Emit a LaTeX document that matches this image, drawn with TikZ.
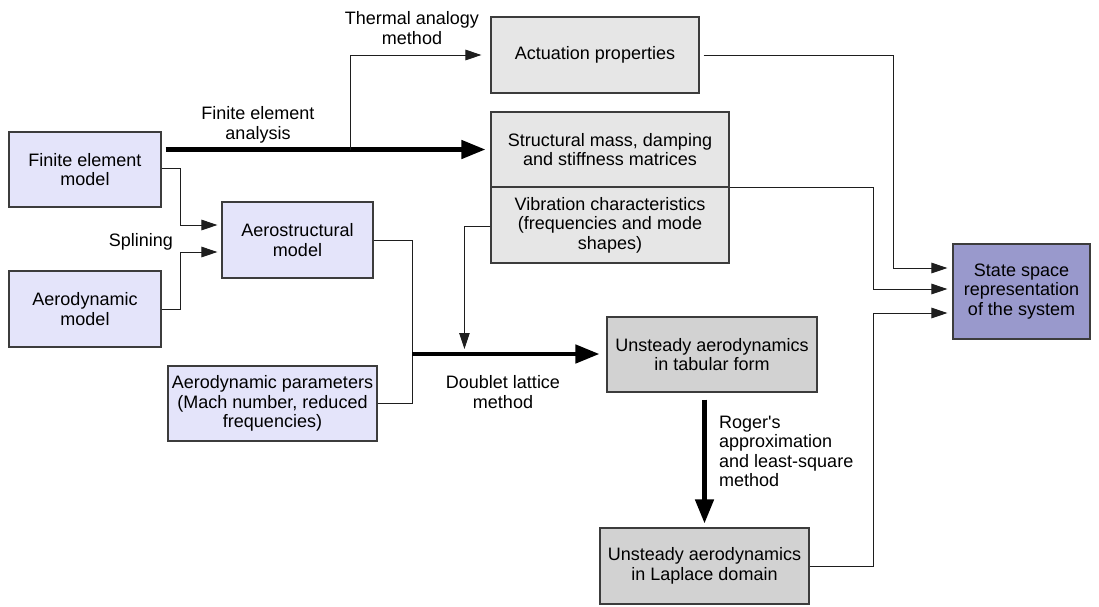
\documentclass[tikz,border=0pt]{standalone}
\usepackage{fontspec}
\setmainfont{Liberation Sans}
\usetikzlibrary{arrows.meta}
\definecolor{lav}{RGB}{228,228,250}
\definecolor{lgray}{RGB}{230,230,230}
\definecolor{mgray}{RGB}{210,210,210}
\definecolor{purp}{RGB}{153,153,204}
\definecolor{bord}{RGB}{60,60,60}
\definecolor{wire}{RGB}{30,30,30}
\begin{document}
\begin{tikzpicture}[x=1pt,y=-1pt,
  box/.style={draw=bord, line width=1.1pt, align=center, inner sep=0pt,
    font=\fontsize{18}{19.5}\selectfont},
  lbl/.style={align=center, inner sep=0pt, font=\fontsize{18}{19.5}\selectfont},
  thin/.style={draw=wire, line width=0.9pt, -{Triangle[length=16pt,width=10.5pt]}},
  plain/.style={draw=wire, line width=0.9pt},
  fat/.style={draw=black, line width=4.5pt, -{Triangle[length=24pt,width=18pt]}}]
\useasboundingbox (0,0) rectangle (1099,606);

% nodes
\node[box, fill=lav, minimum width=152pt, minimum height=75pt] (fem) at (85,169.5) {Finite element\\model};
\node[box, fill=lav, minimum width=152pt, minimum height=76pt] (aerom) at (85,309) {Aerodynamic\\model};
\node[box, fill=lav, minimum width=151pt, minimum height=76pt] (aeros) at (297.5,240) {Aerostructural\\model};
\node[box, fill=lav, minimum width=209pt, minimum height=75pt] (params) at (272.5,403.5) {Aerodynamic parameters\\(Mach number, reduced\\frequencies)};
\node[box, fill=lgray, minimum width=208pt, minimum height=76pt] (act) at (595,55) {Actuation properties};
\node[box, fill=lgray, minimum width=238pt, minimum height=75pt] (struct) at (610,149.5) {Structural mass, damping\\and stiffness matrices};
\node[box, fill=lgray, minimum width=238pt, minimum height=76pt] (vib) at (610,225) {Vibration characteristics\\(frequencies and mode\\shapes)};
\node[box, fill=purp, minimum width=137pt, minimum height=95pt] (state) at (1021.5,291.5) {State space\\representation\\of the system};
\node[box, fill=mgray, minimum width=210pt, minimum height=75pt] (tab) at (712,354.5) {Unsteady aerodynamics\\in tabular form};
\node[box, fill=mgray, minimum width=209pt, minimum height=76pt] (lap) at (704.5,566) {Unsteady aerodynamics\\in Laplace domain};

% labels
\node[lbl] (lthermal) at (412,28) {Thermal analogy\\method};
\node[lbl] (lfea) at (258,125) {Finite element\\analysis};
\node[lbl] (lspl) at (141,242) {Splining};
\node[lbl] (ldlm) at (503,392) {Doublet lattice\\method};
\node[lbl, align=left, anchor=west] (lrog) at (719,451.5) {Roger\textquotesingle s\\approximation\\and least-square\\method};

% junction coordinates
\coordinate (tj) at (350,150);
\coordinate (dj) at (412,354);

% connectors
\draw[fat] ([xshift=4pt]fem.east |- struct.west) -- ([xshift=-5pt]struct.west);
\draw[thin] (tj) -- (tj |- act.west) -- ([xshift=-9pt]act.west);
\draw[thin] ([yshift=1.5pt]fem.east) -- ++(19,0) |- ([xshift=-4pt,yshift=15pt]aeros.west);
\draw[thin] (aerom.east) -- ++(19,0) |- ([xshift=-4pt,yshift=-12pt]aeros.west);
\draw[plain] (aeros.east) -| (dj |- params.east) -- (params.east);
\draw[fat] (dj) -- ([xshift=-7pt]dj -| tab.west);
\draw[thin] ([yshift=-1pt]vib.west) -- ++(-26,0) -- ++(0,123);
\draw[fat] ([yshift=-7pt]tab.south -| lap.north) -- ([yshift=4pt]lap.north);
\draw[thin] ([xshift=4pt]act.east) -| (893,268) -- ([xshift=-5pt,yshift=23.5pt]state.west);
\draw[thin] (struct.south east) -| (873,289) -- ([xshift=-5pt,yshift=2.5pt]state.west);
\draw[thin] (lap.east) -| (873,313) -- ([xshift=-5pt,yshift=-21.5pt]state.west);
\end{tikzpicture}
\end{document}
